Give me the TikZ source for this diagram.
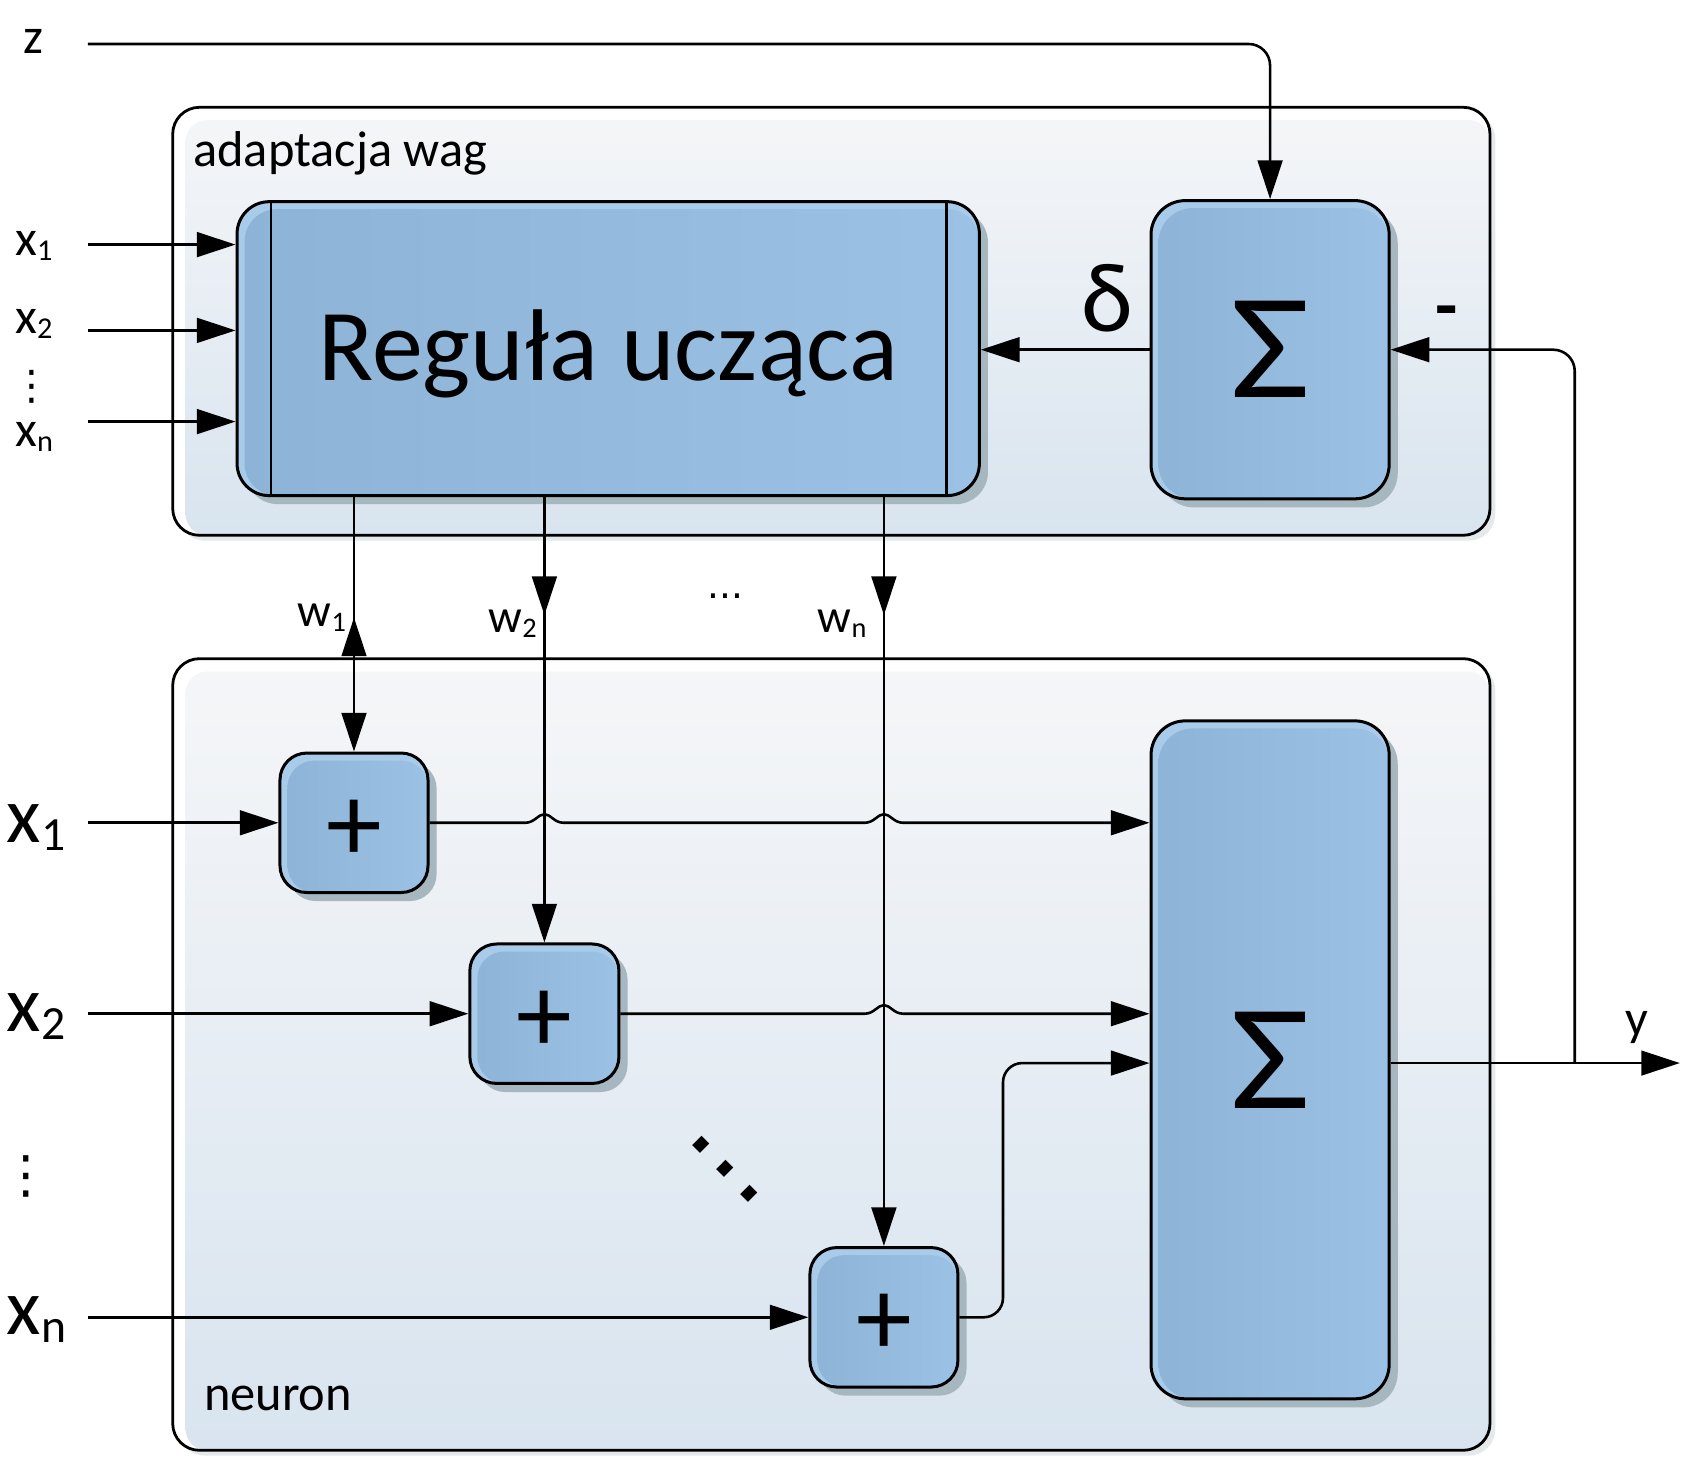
\documentclass[tikz,border=0pt]{standalone}
\usepackage{fontspec}
\usepackage{graphicx}
\setmainfont{Carlito}
\newfontfamily\dejavu{DejaVu Sans}
\usetikzlibrary{arrows.meta,shadows,calc}
\definecolor{boxA}{HTML}{8DB3D7}
\definecolor{boxB}{HTML}{9BC2E5}
\definecolor{rim}{HTML}{A9CBEA}
\definecolor{shad}{HTML}{A6B7C0}
\definecolor{frA}{HTML}{F5F6F8}
\definecolor{frB}{HTML}{D8E4EF}
\definecolor{frS}{HTML}{E4E9EC}
\newcommand\myfs[1]{\fontsize{#1}{#1}\selectfont}
\newcommand\mysub[1]{\raisebox{-0.1em}{\scalebox{0.6}{#1}}}
\begin{document}
\begin{tikzpicture}[x=1pt,y=-1pt,
  arr/.style={-{Triangle[length=36pt,width=23pt]}, line width=2.4pt},
  wire/.style={line width=2.4pt},
  bluebox/.style={draw=black, line width=2.8pt, rounded corners=#1, fill=rim, inner sep=0pt,
     drop shadow={shadow xshift=8pt, shadow yshift=-8pt, fill=shad, opacity=1},
     path picture={\fill[rounded corners=#1, left color=boxA, right color=boxB]
        ([xshift=7pt,yshift=-7pt]path picture bounding box.north west) rectangle (path picture bounding box.south east);}},
  frame/.style={draw=black, line width=2.6pt, rounded corners=25pt, fill=white, inner sep=0pt,
     drop shadow={shadow xshift=5pt, shadow yshift=-5pt, fill=frS, opacity=1},
     path picture={\fill[rounded corners=20pt, top color=frA, bottom color=frB]
        ([xshift=12pt,yshift=-12pt]path picture bounding box.north west) rectangle (path picture bounding box.south east);}},
  plusbox/.style={bluebox=25pt, minimum width=138pt, minimum height=130pt, font=\myfs{104}, text height=72pt, text depth=0pt},
  lbl/.style={inner sep=0pt, font=\myfs{47}},
  wlbl/.style={inner sep=0pt, font=\myfs{44}},
  big/.style={inner sep=0pt, font=\myfs{74}},
]
\useasboundingbox (0,0) rectangle (1568,1358);

% frames
\node[frame, minimum width=1228pt, minimum height=399pt] (fa) at (775,299.5) {};
\node[frame, minimum width=1228pt, minimum height=738pt] (fn) at (775,983) {};
\node[lbl, anchor=base west] (ladapt) at (180,155) {adaptacja wag};
\node[lbl, anchor=base west] (lneuron) at (190,1315) {neuron};

% blocks
\node[bluebox=30pt, minimum width=692pt, minimum height=274pt, font=\myfs{95}, text height=70pt, text depth=10pt] (RG) at (567,325) {Reguła ucząca};
\draw[line width=2.4pt] ($(RG.north west)+(33,0)$) -- ($(RG.south west)+(33,0)$);
\draw[line width=2.4pt] ($(RG.north east)+(-32,0)$) -- ($(RG.south east)+(-32,0)$);
\node[bluebox=32pt, minimum width=222pt, minimum height=278pt, font=\myfs{140}] (S1) at (1184,326) {\scalebox{1.16}[1]{Σ}};
\node[plusbox] (P1) at (330,767) {+};
\node[plusbox, minimum width=139pt] (P2) at (507.5,945) {+};
\node[plusbox] (P3) at (824,1228) {+};
\node[bluebox=32pt, minimum width=222pt, minimum height=632pt, font=\myfs{140}] (S2) at (1184,988) {\scalebox{1.16}[1]{Σ}};

% labels
\node[lbl, anchor=base west] (lz) at (22,50) {z};
\node[lbl, anchor=base west] (lx1) at (14,238) {x\mysub{1}};
\node[lbl, anchor=base west] (lx2) at (14,311) {x\mysub{2}};
\node[inner sep=0pt, font=\dejavu\fontsize{38}{38}\selectfont] (ldots1) at (30,361) {⋮};
\node[lbl, anchor=base west] (lxn) at (14,416) {x\mysub{n}};
\node[big, anchor=base west] (X1) at (6,785) {x\mysub{1}};
\node[big, anchor=base west] (X2) at (6,962) {x\mysub{2}};
\node[inner sep=0pt, font=\dejavu\fontsize{48}{48}\selectfont] (ldots2) at (24,1097) {⋮};
\node[big, anchor=base west] (Xn) at (6,1244) {x\mysub{n}};
\node[wlbl, anchor=base] (lw1) at (300,584) {w\mysub{1}};
\node[wlbl, anchor=base] (lw2) at (478,590) {w\mysub{2}};
\node[inner sep=0pt, font=\dejavu\fontsize{35}{35}\selectfont, anchor=base] (lwd) at (676,558) {...};
\node[wlbl, anchor=base] (lwn) at (785,590) {w\mysub{n}};
\node[inner sep=0pt, font=\myfs{92}] (ldelta) at (1032,278) {δ};
\node[inner sep=0pt, font=\myfs{68}, anchor=base] (lminus) at (1349,308) {\textbf{-}};
\node[lbl, anchor=base] (ly) at (1526,965) {y};
\node[inner sep=0pt, rotate=-45, font=\dejavu\fontsize{100}{100}\selectfont] (ddots) at (676,1090) {...};

% coordinates for free ends
\coordinate (sz) at (82,41);
\coordinate (sx1) at (82,228);
\coordinate (sx2) at (82,308);
\coordinate (sxn) at (82,393);
\coordinate (sX1) at (82,767);
\coordinate (sX2) at (82,945);
\coordinate (sXn) at (82,1228);
\coordinate (tap) at (1468,991);
\coordinate (yend) at (1566,991);
\coordinate (bend) at (935,0);

% connectors, upper part
\draw[arr, rounded corners=20pt] (sz) -| (S1.north);
\draw[arr] (sx1) -- (sx1 -| RG.west);
\draw[arr] (sx2) -- (sx2 -| RG.west);
\draw[arr] (sxn) -- (sxn -| RG.west);
\draw[arr] (S1.west) -- (S1.west -| RG.east);
\draw[arr, rounded corners=20pt] (tap) |- (S1.east);

% weights
\draw[arr] (RG.south -| P1.north) -- (P1.north);
\draw[arr] (fn.north -| P1.north) -- ++(0,-37);
\draw[arr] (RG.south -| P2.north) -- ++(0,110);
\draw[arr] (RG.south -| P2.north) -- (P2.north);
\draw[arr] (RG.south -| P3.north) -- ++(0,110);
\draw[arr] (RG.south -| P3.north) -- (P3.north);

% inputs of neuron
\draw[arr] (sX1) -- (P1.west);
\draw[arr] (sX2) -- (P2.west);
\draw[arr] (sXn) -- (P3.west);

% sums into big sigma
\draw[arr] (P1.east) -- ($(P1.east -| P2.north)+(-18,0)$)
   .. controls +(9,0) and +(-6,0) .. ($(P1.east -| P2.north)+(0,-8)$)
   .. controls +(6,0) and +(-9,0) .. ($(P1.east -| P2.north)+(18,0)$)
   -- ($(P1.east -| P3.north)+(-18,0)$)
   .. controls +(9,0) and +(-6,0) .. ($(P1.east -| P3.north)+(0,-8)$)
   .. controls +(6,0) and +(-9,0) .. ($(P1.east -| P3.north)+(18,0)$)
   -- (P1.east -| S2.west);
\draw[arr] (P2.east) -- ($(P2.east -| P3.north)+(-18,0)$)
   .. controls +(9,0) and +(-6,0) .. ($(P2.east -| P3.north)+(0,-8)$)
   .. controls +(6,0) and +(-9,0) .. ($(P2.east -| P3.north)+(18,0)$)
   -- (P2.east -| S2.west);
\draw[arr, rounded corners=18pt] (P3.east) -- (P3.east -| bend) |- (tap -| S2.west);

% output
\draw[arr] (S2.east |- tap) -- (yend);
\end{tikzpicture}
\end{document}
